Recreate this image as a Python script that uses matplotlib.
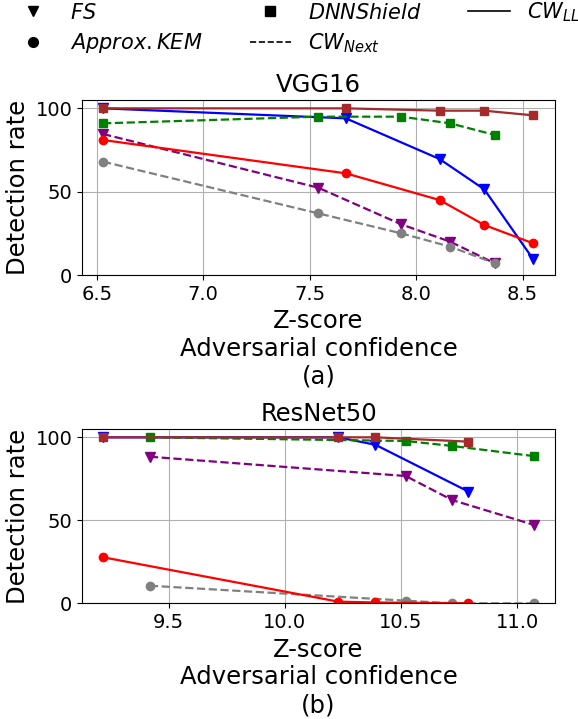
import matplotlib
matplotlib.use("Agg")
import matplotlib.pyplot as plt
from matplotlib.lines import Line2D

# VGG16 (a)
vgg_x_ll = [6.53, 7.67, 8.11, 8.32, 8.55]
vgg_x_next = [6.53, 7.54, 7.93, 8.16, 8.37]
vgg_fs_ll = [100, 94, 69.6, 51.4, 9.4]
vgg_fs_next = [84.6, 52.4, 30.4, 20, 7]
vgg_kem_ll = [81, 61, 45, 30, 19]
vgg_kem_next = [68, 37, 25, 17, 7]
vgg_dnn_ll = [100, 100, 98.6, 98.6, 95.8]
vgg_dnn_next = [91, 95, 95, 91, 84]

# ResNet50 (b)
res_x_ll = [9.22, 10.23, 10.39, 10.79]
res_x_next = [9.42, 10.52, 10.72, 11.07]
res_fs_ll = [100, 100, 95.5, 67.3]
res_fs_next = [88.3, 76.7, 62.2, 47.3]
res_kem_ll = [27.7, 1, 0.5, 0]
res_kem_next = [10.6, 1.6, 0, 0]
res_dnn_ll = [100, 100, 100, 97.4]
res_dnn_next = [100, 97.8, 94.8, 88.7]


def draw(ax, x_ll, x_next, fs_ll, fs_next, kem_ll, kem_next, dnn_ll, dnn_next,
         title, tag, xlim):
    ax.plot(x_ll, fs_ll, color="blue", marker="v", ms=7, lw=1.6)
    ax.plot(x_next, fs_next, color="purple", marker="v", ms=7, lw=1.6, ls="--")
    ax.plot(x_next, kem_next, color="gray", marker="o", ms=6, lw=1.6, ls="--")
    ax.plot(x_ll, kem_ll, color="red", marker="o", ms=6, lw=1.6)
    ax.plot(x_next, dnn_next, color="green", marker="s", ms=6, lw=1.6, ls="--")
    ax.plot(x_ll, dnn_ll, color="brown", marker="s", ms=6, lw=1.6)
    ax.set_title(title, fontsize=17.5)
    ax.set_xlabel("Z-score\nAdversarial confidence\n" + tag, fontsize=17.5,
                  linespacing=1.2)
    ax.set_ylabel("Detection rate", fontsize=17.5)
    ax.set_ylim(0, 105)
    ax.set_xlim(*xlim)
    ax.set_yticks([0, 50, 100])
    ax.tick_params(labelsize=14)
    ax.grid(True)


fig = plt.figure(figsize=(5.78, 7.19), dpi=100)
ax1 = fig.add_axes([0.1419, 0.6175, 0.8183, 0.2434])
ax2 = fig.add_axes([0.1419, 0.1609, 0.8183, 0.2424])

draw(ax1, vgg_x_ll, vgg_x_next, vgg_fs_ll, vgg_fs_next, vgg_kem_ll, vgg_kem_next,
     vgg_dnn_ll, vgg_dnn_next, "VGG16", "(a)", (6.431, 8.652))
draw(ax2, res_x_ll, res_x_next, res_fs_ll, res_fs_next, res_kem_ll, res_kem_next,
     res_dnn_ll, res_dnn_next, "ResNet50", "(b)", (9.128, 11.162))

handles = [
    Line2D([], [], color="black", marker="v", ls="none", ms=7),
    Line2D([], [], color="black", marker="o", ls="none", ms=7),
    Line2D([], [], color="black", marker="s", ls="none", ms=7),
    Line2D([], [], color="black", ls="--", lw=1.2),
    Line2D([], [], color="black", ls="-", lw=1.2),
]
labels = [r"$FS$", r"$Approx.KEM$", r"$DNNShield$", r"$CW_{Next}$", r"$CW_{LL}$"]
fig.legend(handles, labels, ncol=3, frameon=False, fontsize=15,
           loc="upper left", bbox_to_anchor=(-0.012, 1.025),
           columnspacing=2.25, labelspacing=0.4)

fig.savefig("out.png", dpi=100)
